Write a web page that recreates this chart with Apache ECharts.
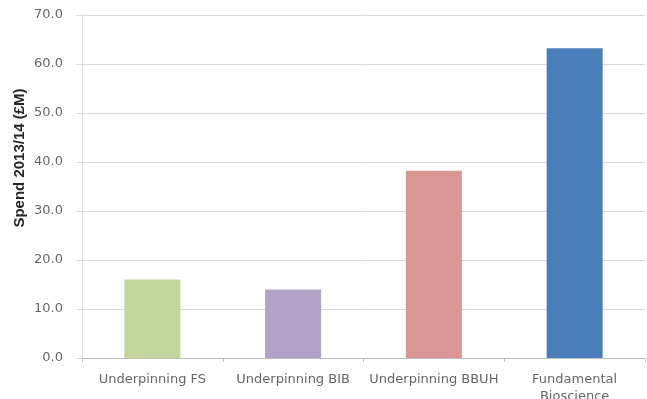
<!DOCTYPE html>
<html lang="en">
<head>
    <meta charset="UTF-8">
    <title>Spend 2013/14</title>
    <script src="https://cdn.jsdelivr.net/npm/echarts@6.0.0/dist/echarts.min.js"></script>
    <style>
        html, body { margin: 0; padding: 0; background: #fff; }
        #chart { width: 647px; height: 399px; }
    </style>
</head>
<body>
<div id="chart"></div>
<script>
    // data
    var categories = ['Underpinning FS', 'Underpinning BIB', 'Underpinning BBUH', 'Fundamental\nBioscience'];
    var spend = [16.0, 14.0, 38.2, 63.2];
    var barColors = ['#c3d69b', '#b3a2c7', '#d99694', '#4a7ebb'];
    var yTicks = [0, 10, 20, 30, 40, 50, 60, 70];

    var chart = echarts.init(document.getElementById('chart'));

    chart.setOption({
        animation: false,
        textStyle: {fontFamily: '"DejaVu Sans", sans-serif'},
        grid: {left: 82, right: 2, top: 15, bottom: 41, containLabel: false, outerBoundsMode: 'none'},
        graphic: [{
            type: 'text',
            x: 20,
            y: 158,
            rotation: Math.PI / 2,
            style: {
                text: 'Spend 2013/14 (£M)',
                font: 'bold 15px "Liberation Sans", Arial, sans-serif',
                fill: '#262626',
                align: 'center',
                verticalAlign: 'middle'
            }
        }],
        xAxis: {
            type: 'category',
            data: categories,
            axisLine: {lineStyle: {color: '#bfbfbf'}},
            axisTick: {show: true, length: 4, lineStyle: {color: '#bfbfbf'}},
            axisLabel: {color: '#666666', fontSize: 13, margin: 13, interval: 0, lineHeight: 17}
        },
        yAxis: {
            type: 'value',
            min: yTicks[0],
            max: yTicks[yTicks.length - 1],
            interval: 10,
            axisLine: {show: true, lineStyle: {color: '#d9d9d9'}},
            axisTick: {show: true, length: 6, lineStyle: {color: '#d9d9d9'}},
            axisLabel: {
                color: '#666666',
                fontSize: 13,
                margin: 19,
                formatter: function (v) { return v.toFixed(1); }
            },
            splitLine: {lineStyle: {color: '#d9d9d9'}}
        },
        series: [{
            type: 'bar',
            barWidth: 56,
            data: spend.map(function (v, i) {
                return {value: v, itemStyle: {color: barColors[i]}};
            })
        }]
    });
</script>
</body>
</html>
